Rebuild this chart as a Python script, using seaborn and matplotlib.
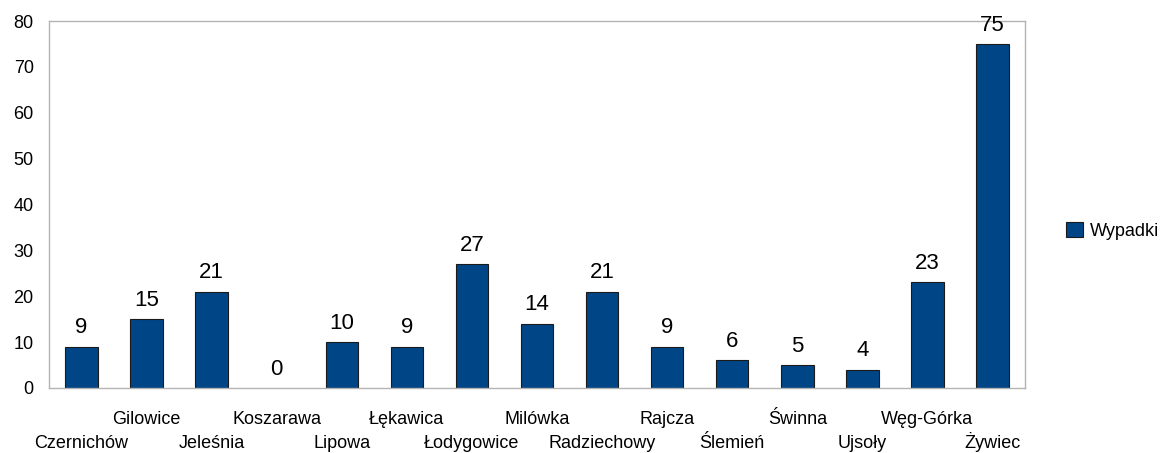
import pandas as pd
import matplotlib.pyplot as plt
import seaborn as sns
import numpy as np

# Data
gminy = ['Czernichów', 'Gilowice', 'Jeleśnia', 'Koszarawa', 'Lipowa', 'Łękawica',
         'Łodygowice', 'Milówka', 'Radziechowy', 'Rajcza', 'Ślemień', 'Świnna',
         'Ujsoły', 'Węg-Górka', 'Żywiec']
wypadki = [9, 15, 21, 0, 10, 9, 27, 14, 21, 9, 6, 5, 4, 23, 75]
y_ticks = [0, 10, 20, 30, 40, 50, 60, 70, 80]

df = pd.DataFrame({'gmina': gminy, 'wypadki': wypadki})

sns.set_style('white')
plt.rcParams['font.family'] = ['Liberation Sans', 'DejaVu Sans']
plt.rcParams['text.color'] = 'black'

bar_color = '#004586'
grey = '#b3b3b3'

fig = plt.figure(figsize=(11.62, 4.53), dpi=100)
ax = fig.add_axes([49 / 1162, 65 / 453, (1025 - 49) / 1162, (388 - 21) / 453])

sns.barplot(data=df, x='gmina', y='wypadki', color=bar_color, width=0.5,
            edgecolor='#1a1a1a', linewidth=0.8, saturation=1, ax=ax)

# a zero bar shows no outline in the reference
for patch, v in zip(ax.containers[0], wypadki):
    if v == 0:
        patch.set_linewidth(0)

# value labels above bars
ax.bar_label(ax.containers[0], labels=[str(v) for v in wypadki],
             padding=6, fontsize=16, color='black')

ax.set_ylim(0, 80)
ax.set_yticks(y_ticks)
ax.set_xlim(-0.5, len(gminy) - 0.5)
ax.set_xlabel('')
ax.set_ylabel('')

# boundary ticks on x axis, labels in two staggered rows
ax.set_xticks(np.arange(-0.5, len(gminy), 1.0))
ax.set_xticklabels([])
ax.tick_params(axis='x', which='major', length=8, color=grey, width=1, direction='out')
ax.tick_params(axis='y', length=8, color=grey, width=1, direction='out',
               labelsize=13, labelcolor='black', pad=3)

trans = ax.get_xaxis_transform()
for i, g in enumerate(gminy):
    y_px = 448 if i % 2 == 0 else 424   # baseline in figure pixels
    y_ax = (388 - y_px) / (388 - 21)
    ax.text(i, y_ax, g, transform=trans, ha='center', va='baseline',
            fontsize=13, color='black', clip_on=False)

for s in ax.spines.values():
    s.set_visible(True)
    s.set_color(grey)
    s.set_linewidth(1)

# legend on the right
handles = [plt.Rectangle((0, 0), 1, 1, facecolor=bar_color, edgecolor='#1a1a1a', linewidth=0.8)]
fig.legend(handles, ['Wypadki'], loc='center left', bbox_to_anchor=(1050 / 1162, 0.49),
           frameon=False, fontsize=13, handlelength=0.9, handleheight=0.9, handletextpad=0.4)

plt.savefig('out.png', dpi=100)
plt.close(fig)
